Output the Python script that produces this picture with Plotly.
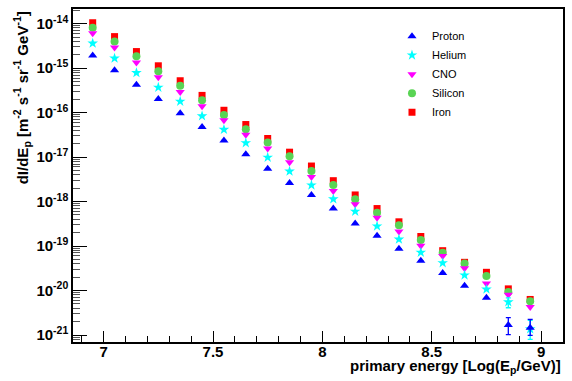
import plotly.graph_objects as go

log_e = [6.95, 7.05, 7.15, 7.25, 7.35, 7.45, 7.55, 7.65, 7.75, 7.85,
         7.95, 8.05, 8.15, 8.25, 8.35, 8.45, 8.55, 8.65, 8.75, 8.85, 8.95]

proton = [1.92e-15, 9.02e-16, 4.25e-16, 2.02e-16, 9.66e-17, 4.78e-17, 2.37e-17,
          1.16e-17, 5.47e-18, 2.62e-18, 1.40e-18, 6.97e-19, 3.21e-19, 1.71e-19,
          8.73e-20, 4.70e-20, 2.49e-20, 1.28e-20, 6.87e-21, 1.67e-21, 1.45e-21]
helium = [3.62e-15, 1.67e-15, 7.87e-16, 3.69e-16, 1.79e-16, 8.41e-17, 4.17e-17,
          2.09e-17, 9.84e-18, 4.79e-18, 2.34e-18, 1.14e-18, 6.03e-19, 2.81e-19,
          1.42e-19, 7.21e-20, 4.17e-20, 2.22e-20, 1.07e-20, 5.53e-21, 1.36e-21]
cno = [6.07e-15, 2.90e-15, 1.34e-15, 6.28e-16, 2.90e-16, 1.39e-16, 6.73e-17,
       3.19e-17, 1.57e-17, 7.62e-18, 3.56e-18, 1.73e-18, 8.73e-19, 4.32e-19,
       2.13e-19, 1.02e-19, 5.98e-20, 3.16e-20, 1.44e-20, 8.05e-21, 4.28e-21]
silicon = [8.13e-15, 3.95e-15, 1.85e-15, 8.55e-16, 4.03e-16, 1.89e-16, 8.85e-17,
           4.24e-17, 2.13e-17, 1.04e-17, 4.86e-18, 2.36e-18, 1.13e-18, 5.58e-19,
           2.93e-19, 1.37e-19, 7.10e-20, 4.06e-20, 2.13e-20, 9.27e-21, 5.77e-21]
iron = [1.05e-14, 5.12e-15, 2.36e-15, 1.13e-15, 5.21e-16, 2.44e-16, 1.13e-16,
        5.40e-17, 2.62e-17, 1.29e-17, 6.30e-18, 2.95e-18, 1.41e-18, 6.97e-19,
        3.51e-19, 1.64e-19, 7.87e-20, 4.31e-20, 2.57e-20, 1.09e-20, 6.30e-21]

N = len(log_e)
# error bars (only visible at the highest energies)
proton_err_up = [None] * (N - 2) + [0.78e-21, 0.79e-21]
proton_err_dn = [None] * (N - 2) + [0.65e-21, 0.47e-21]
helium_err_up = [None] * (N - 3) + [0.2e-21, 1.34e-21, 0.77e-21]
helium_err_dn = [None] * (N - 3) + [0.2e-21, 1.43e-21, 0.56e-21]

series = [
    ("Iron", iron, "#ff0000", "square", 7, None, None),
    ("Silicon", silicon, "#59d454", "circle", 8, None, None),
    ("CNO", cno, "#ff00ff", "triangle-down", 8, None, None),
    ("Helium", helium, "#00ffff", "star", 8, helium_err_up, helium_err_dn),
    ("Proton", proton, "#0000ff", "triangle-up", 8, proton_err_up, proton_err_dn),
]

fig = go.Figure()
for name, vals, col, sym, sz, eu, ed in series:
    err = None
    if eu is not None:
        err = dict(type="data", symmetric=False, array=eu, arrayminus=ed,
                   color=col, thickness=1.3, width=2.5)
    fig.add_trace(go.Scatter(
        x=log_e, y=vals, mode="markers", name=name,
        marker=dict(symbol=sym, size=sz, color=col, line=dict(width=0)),
        error_y=err,
    ))

ytick_vals = [10.0 ** e for e in range(-21, -13)]
ytick_text = ["10<sup>%d</sup>" % e for e in range(-21, -13)]
yminor = [m * 10.0 ** e for e in range(-22, -13) for m in range(2, 10)]

fig.update_layout(
    width=572, height=381,
    margin=dict(l=73, r=8, t=7, b=39),
    paper_bgcolor="white", plot_bgcolor="white",
    font=dict(family="Liberation Sans, Arial, sans-serif", color="black"),
    showlegend=True,
    legend=dict(x=0.651, y=0.962, xanchor="left", yanchor="top",
                traceorder="reversed", bgcolor="rgba(0,0,0,0)",
                font=dict(size=11, family="Liberation Sans, Arial, sans-serif"),
                itemwidth=30, tracegroupgap=0),
    xaxis=dict(range=[6.86, 9.1], showgrid=False, zeroline=False,
               showline=True, linecolor="black", linewidth=1.5, mirror=True,
               ticks="inside", ticklen=11, tickwidth=1, tickcolor="black",
               tickvals=[7, 7.5, 8, 8.5, 9], ticktext=["7", "7.5", "8", "8.5", "9"],
               tickfont=dict(size=15, weight="bold"), ticklabelstandoff=-5,
               minor=dict(ticks="inside", ticklen=6, dtick=0.1, tick0=7,
                          tickcolor="black", showgrid=False)),
    yaxis=dict(type="log", range=[-21.157, -13.67], showgrid=False, zeroline=False,
               showline=True, linecolor="black", linewidth=1.5, mirror=True,
               ticks="inside", ticklen=14, tickwidth=1, tickcolor="black",
               tickvals=ytick_vals, ticktext=ytick_text,
               tickfont=dict(size=15, weight="bold"),
               minor=dict(ticks="inside", ticklen=7, tickvals=yminor,
                          tickcolor="#555555", showgrid=False)),
    annotations=[
        dict(text="primary energy [Log(E<sub>p</sub>/GeV)]", xref="paper", yref="paper",
             x=1.0, y=-0.04, xanchor="right", yanchor="top", showarrow=False,
             font=dict(size=15, weight="bold")),
        dict(text="dI/dE<sub>p</sub> [m<sup>-2</sup> s<sup>-1</sup> sr<sup>-1</sup> GeV<sup>-1</sup>]",
             xref="paper", yref="paper", x=-0.1045, y=1.0, xanchor="center", yanchor="top",
             textangle=-90, showarrow=False, font=dict(size=15, weight="bold")),
    ],
)

fig.write_html("out.html")
